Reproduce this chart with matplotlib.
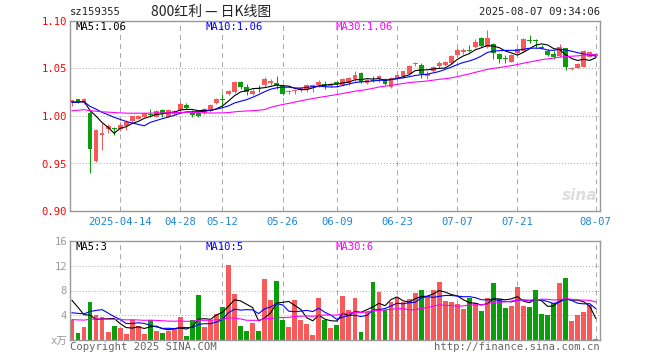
import numpy as np
import pandas as pd
import matplotlib
matplotlib.use("Agg")
import matplotlib.pyplot as plt

plt.rcParams['font.family'] = ['DejaVu Sans Mono', 'Noto Sans CJK SC']
plt.rcParams['lines.scale_dashes'] = False

# ---------------- data ----------------
dates = (["2025-04-%s" % d for d in ["01","02","03","07","08","09","10","11","14","15","16","17","18",
                                      "21","22","23","24","25","28","29","30"]] +
         ["2025-05-%s" % d for d in ["06","07","08","09","12","13","14","15","16","19","20","21","22",
                                      "23","26","27","28","29","30"]] +
         ["2025-06-%s" % d for d in ["03","04","05","06","09","10","11","12","13","16","17","18","19",
                                      "20","23","24","25","26","27","30"]] +
         ["2025-07-%s" % d for d in ["01","02","03","04","07","08","09","10","11","14","15","16","17",
                                      "18","21","22","23","24","25","28","29","30","31"]] +
         ["2025-08-%s" % d for d in ["01","04","05","06","07"]])

open_ = [1.0144, 1.0175, 1.0140, 1.0035, 0.9530, 0.9797, 0.9860, 0.9870, 0.9867, 0.9895,
         0.9951, 0.9972, 0.9993, 1.0025, 0.9993, 1.0060, 0.9993, 1.0018, 1.0060, 1.0112,
         1.0035, 1.0028, 1.0032, 1.0053, 1.0137, 1.0168, 1.0228, 1.0253, 1.0354, 1.0305,
         1.0228, 1.0288, 1.0323, 1.0344, 1.0351, 1.0316, 1.0250, 1.0260, 1.0274, 1.0284,
         1.0305, 1.0323, 1.0332, 1.0312, 1.0358, 1.0330, 1.0348, 1.0390, 1.0449, 1.0344,
         1.0378, 1.0386, 1.0386, 1.0309, 1.0390, 1.0418, 1.0446, 1.0544, 1.0537, 1.0425,
         1.0477, 1.0530, 1.0537, 1.0555, 1.0642, 1.0670, 1.0688, 1.0730, 1.0825, 1.0730,
         1.0754, 1.0650, 1.0605, 1.0572, 1.0660, 1.0684, 1.0793, 1.0790, 1.0730, 1.0680,
         1.0649, 1.0635, 1.0712, 1.0491, 1.0509, 1.0519, 1.0625, 1.0635]
high = [1.0170, 1.0178, 1.0185, 1.0056, 0.9860, 0.9923, 0.9920, 0.9888, 0.9937, 0.9955,
        1.0005, 1.0010, 1.0035, 1.0070, 1.0065, 1.0074, 1.0077, 1.0063, 1.0147, 1.0137,
        1.0060, 1.0040, 1.0085, 1.0130, 1.0186, 1.0228, 1.0277, 1.0368, 1.0368, 1.0340,
        1.0288, 1.0323, 1.0407, 1.0386, 1.0418, 1.0326, 1.0274, 1.0288, 1.0309, 1.0340,
        1.0340, 1.0375, 1.0365, 1.0345, 1.0365, 1.0400, 1.0412, 1.0470, 1.0460, 1.0390,
        1.0425, 1.0432, 1.0395, 1.0414, 1.0440, 1.0475, 1.0533, 1.0572, 1.0554, 1.0470,
        1.0530, 1.0575, 1.0580, 1.0640, 1.0712, 1.0712, 1.0747, 1.0810, 1.0835, 1.0905,
        1.0765, 1.0660, 1.0642, 1.0649, 1.0712, 1.0818, 1.0853, 1.0810, 1.0750, 1.0700,
        1.0684, 1.0754, 1.0719, 1.0515, 1.0555, 1.0695, 1.0684, 1.0660]
low = [1.0105, 1.0140, 1.0130, 0.9403, 0.9520, 0.9642, 0.9825, 0.9800, 0.9842, 0.9853,
       0.9940, 0.9965, 0.9985, 0.9993, 0.9985, 0.9993, 0.9985, 1.0010, 1.0040, 1.0070,
       0.9993, 0.9985, 1.0025, 1.0040, 1.0130, 1.0105, 1.0218, 1.0242, 1.0288, 1.0218,
       1.0218, 1.0253, 1.0309, 1.0326, 1.0288, 1.0221, 1.0228, 1.0228, 1.0253, 1.0253,
       1.0253, 1.0305, 1.0288, 1.0300, 1.0305, 1.0320, 1.0330, 1.0372, 1.0344, 1.0333,
       1.0358, 1.0358, 1.0330, 1.0298, 1.0380, 1.0405, 1.0435, 1.0530, 1.0404, 1.0390,
       1.0460, 1.0505, 1.0525, 1.0545, 1.0625, 1.0650, 1.0670, 1.0720, 1.0730, 1.0720,
       1.0600, 1.0555, 1.0555, 1.0565, 1.0650, 1.0677, 1.0765, 1.0712, 1.0700, 1.0630,
       1.0600, 1.0625, 1.0484, 1.0480, 1.0500, 1.0512, 1.0618, 1.0620]
close = [1.0165, 1.0147, 1.0178, 0.9650, 0.9853, 0.9825, 0.9898, 0.9865, 0.9909, 0.9937,
         1.0000, 1.0002, 1.0028, 1.0007, 1.0053, 1.0018, 1.0067, 1.0053, 1.0123, 1.0088,
         1.0011, 1.0004, 1.0074, 1.0112, 1.0175, 1.0165, 1.0263, 1.0354, 1.0305, 1.0253,
         1.0263, 1.0284, 1.0386, 1.0372, 1.0323, 1.0232, 1.0260, 1.0274, 1.0295, 1.0330,
         1.0323, 1.0358, 1.0316, 1.0340, 1.0340, 1.0390, 1.0400, 1.0435, 1.0355, 1.0383,
         1.0372, 1.0421, 1.0341, 1.0404, 1.0432, 1.0470, 1.0523, 1.0558, 1.0440, 1.0439,
         1.0512, 1.0561, 1.0572, 1.0635, 1.0698, 1.0695, 1.0683, 1.0775, 1.0740, 1.0818,
         1.0660, 1.0600, 1.0600, 1.0642, 1.0702, 1.0810, 1.0786, 1.0786, 1.0712, 1.0646,
         1.0621, 1.0730, 1.0519, 1.0509, 1.0544, 1.0684, 1.0670, 1.0656]
volume = [3.24, 1.08, 2.05, 6.10, 4.10, 3.68, 1.24, 2.32, 1.89, 0.92,
          3.24, 2.32, 0.92, 3.24, 1.51, 1.19, 1.40, 1.78, 3.78, 0.70,
          3.24, 7.35, 2.16, 3.24, 4.22, 5.40, 12.2, 7.46, 2.32, 1.51,
          2.75, 1.40, 9.78, 6.49, 9.46, 3.30, 2.16, 6.54, 3.30, 2.65,
          0.86, 6.80, 3.25, 1.97, 2.45, 7.09, 4.85, 6.77, 1.23, 4.58,
          9.33, 7.73, 4.85, 6.18, 6.72, 6.18, 6.66, 7.52, 8.05, 6.98,
          8.05, 9.33, 6.29, 6.13, 5.81, 5.06, 6.82, 5.92, 4.69, 6.82,
          9.17, 6.56, 5.22, 5.49, 8.58, 5.54, 5.33, 8.05, 4.21, 4.05,
          5.92, 9.17, 9.97, 3.14, 4.05, 4.53, 5.65, 0.16]

# sessions before the visible window (only used to seed the moving averages)
hist_close = [0.999, 1.000, 0.998, 1.001, 1.002, 1.000, 0.999, 1.001, 1.003, 1.002,
              1.000, 1.001, 0.999, 1.000, 1.002, 1.003, 1.002, 1.004, 1.003, 1.004,
              1.012, 1.013, 1.015, 1.014, 1.016, 1.015, 1.014, 1.013, 1.015]
hist_volume = [2.6, 3.1, 2.4, 2.9, 3.3, 2.2, 2.7, 3.0, 2.5, 2.8,
               3.4, 2.6, 2.3, 2.9, 2.7, 3.1, 2.5, 2.4, 2.8, 2.8,
               2.1, 2.8, 2.4, 2.2, 2.5, 6.8, 7.9, 6.5, 7.6]

tick_dates = ["2025-04-14", "2025-04-28", "2025-05-12", "2025-05-26", "2025-06-09",
              "2025-06-23", "2025-07-07", "2025-07-21", "2025-08-07"]
tick_labels = ["2025-04-14", "04-28", "05-12", "05-26", "06-09", "06-23", "07-07", "07-21", "08-07"]
price_ticks = [0.90, 0.95, 1.00, 1.05, 1.10]
price_tick_labels = ["0.90", "0.95", "1.00", "1.05", "1.10"]
vol_ticks = [0, 4, 8, 12, 16]
vol_tick_labels = ["x万", "4", "8", "12", "16"]
ma_windows = [5, 10, 30]

symbol = "sz159355"
title = "800红利 — 日K线图"
timestamp = "2025-08-07 09:34:06"

# ---------------- style ----------------
RED = "#F65A5A"
GREEN = "#0A9E0A"
MA_COLORS = ["#000000", "#0000FF", "#FF00FF"]
GRID = "#AAAAAA"
FRAME = "#999999"
PX = 0.72  # one pixel in points at dpi 100

W, H = 660, 360
fig = plt.figure(figsize=(W / 100, H / 100), dpi=100)
fig.patch.set_facecolor("white")


def rect(l, t, r, b):
    return [l / W, 1 - b / H, (r - l) / W, (b - t) / H]


def ftext(x, y, s, **kw):
    fig.text(x / W, 1 - y / H, s, **kw)


axp = fig.add_axes(rect(70, 21, 600, 211))
axv = fig.add_axes(rect(70, 241, 600, 340))

n = len(close)
x = np.arange(n)
o = np.array(open_); h = np.array(high); l = np.array(low); c = np.array(close)
v = np.array(volume)
colors = np.where(c >= o, RED, GREEN)

xlim = (-0.33, 87.71)
tick_pos = [dates.index(d) for d in tick_dates]

# moving averages
ma_price = [pd.Series(hist_close + close).rolling(w).mean().to_numpy()[-n:] for w in ma_windows]
ma_vol = [pd.Series(hist_volume + volume).rolling(w).mean().to_numpy()[-n:] for w in ma_windows]

for ax in (axp, axv):
    ax.set_xlim(*xlim)
    for s in ax.spines.values():
        s.set_color(FRAME)
        s.set_linewidth(1.4 * PX)
    for tp in tick_pos:
        ax.axvline(tp, color=GRID, lw=PX, linestyle=(0, (3.6, 2.9)), zorder=0)

# price panel
axp.set_ylim(0.90, 1.10)
for yv in [0.95, 1.00, 1.05]:
    axp.axhline(yv, color=GRID, lw=PX, linestyle=(0, (PX, 1.45)), zorder=0)
axp.vlines(x, l, h, colors=colors, lw=PX, zorder=2)
body = np.maximum(np.abs(c - o), 0.0011)
axp.bar(x, body, bottom=np.minimum(o, c), width=0.8, color=colors, linewidth=0, zorder=3)
for ma, col in zip(ma_price, MA_COLORS):
    axp.plot(x, ma, color=col, lw=PX * 1.1, zorder=4)
axp.set_yticks(price_ticks)
axp.set_yticklabels(price_tick_labels)
axp.tick_params(axis="y", length=0, pad=2, labelcolor="#FF0000", labelsize=7.6)
axp.set_xticks(tick_pos)
axp.set_xticklabels(tick_labels)
axp.tick_params(axis="x", length=0, pad=4, labelcolor="#1C86D8", labelsize=7.6)

# volume panel
axv.set_ylim(0, 16)
for yv in [4, 8, 12]:
    axv.axhline(yv, color=GRID, lw=PX, linestyle=(0, (PX, 1.45)), zorder=0)
axv.bar(x, v, width=0.8, color=colors, linewidth=0, zorder=2)
for ma, col in zip(ma_vol, MA_COLORS):
    axv.plot(x, ma, color=col, lw=PX * 1.1, zorder=4)
axv.set_yticks(vol_ticks)
axv.set_yticklabels(vol_tick_labels)
axv.tick_params(axis="y", length=0, pad=2, labelcolor="#999999", labelsize=7.6)
axv.set_xticks([])

# legends
names = ["MA5", "MA10", "MA30"]
lx = [75, 205, 336]
for name, ma, col, xx in zip(names, ma_price, MA_COLORS, lx):
    ftext(xx, 27, "%s:%.2f" % (name, ma[-1]), color=col, fontsize=7.6, va="center")
for name, ma, col, xx in zip(names, ma_vol, MA_COLORS, lx):
    ftext(xx, 247, "%s:%d" % (name, int(ma[-1])), color=col, fontsize=7.6, va="center")

# header and footer
ftext(70, 12, symbol, fontsize=7.6, va="center", color="#222222")
ftext(211, 12, title, fontsize=10, va="center", ha="center", color="#222222",
      family=["Noto Sans CJK SC", "DejaVu Sans"])
ftext(600, 12, timestamp, fontsize=7.6, va="center", ha="right", color="#222222")
ftext(70, 347, "Copyright 2025 SINA.COM", fontsize=7.6, va="center", color="#666666")
ftext(600, 347, "http://finance.sina.com.cn", fontsize=7.6, va="center", ha="right", color="#666666")
ftext(597, 196, "sina", fontsize=11, va="center", ha="right", color="#DDDDDD",
      style="italic", weight="bold", family="DejaVu Sans")

fig.savefig("out.png", dpi=100)
